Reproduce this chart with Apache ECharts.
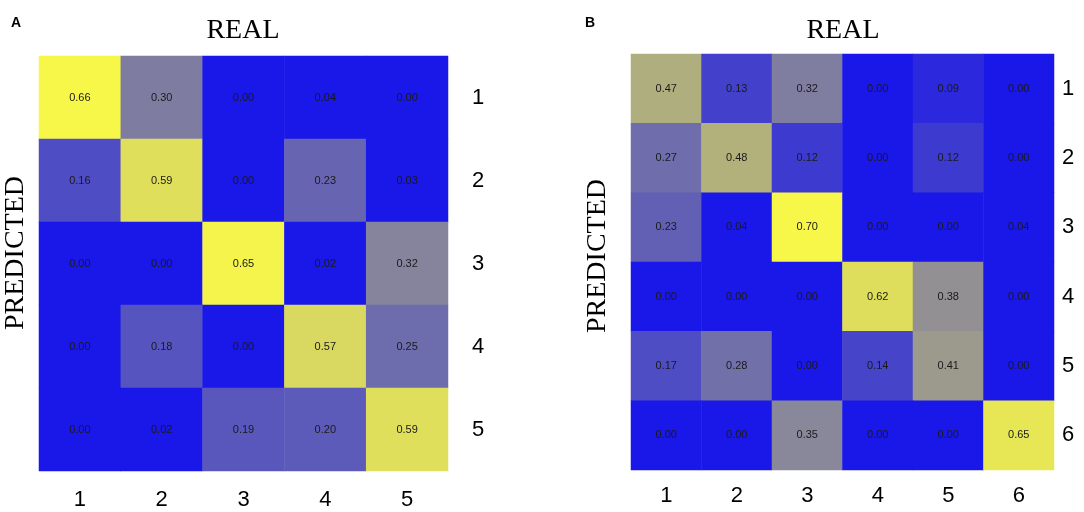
<!DOCTYPE html>
<html>
<head>
<meta charset="utf-8">
<title>Confusion matrices</title>
<script src="https://cdn.jsdelivr.net/npm/echarts@6/dist/echarts.min.js"></script>
<style>
  html, body { margin: 0; padding: 0; background: #fff; }
  #chart { width: 1084px; height: 512px; }
</style>
</head>
<body>
<div id="chart"></div>
<script>
// class labels for each panel
var classesA = ['1', '2', '3', '4', '5'];
var classesB = ['1', '2', '3', '4', '5', '6'];

// panel A: rows = predicted, cols = real
var matA = [
  [0.66, 0.30, 0.00, 0.04, 0.00],
  [0.16, 0.59, 0.00, 0.23, 0.03],
  [0.00, 0.00, 0.65, 0.02, 0.32],
  [0.00, 0.18, 0.00, 0.57, 0.25],
  [0.00, 0.02, 0.19, 0.20, 0.59]
];

// panel B
var matB = [
  [0.47, 0.13, 0.32, 0.00, 0.09, 0.00],
  [0.27, 0.48, 0.12, 0.00, 0.12, 0.00],
  [0.23, 0.04, 0.70, 0.00, 0.00, 0.04],
  [0.00, 0.00, 0.00, 0.62, 0.38, 0.00],
  [0.17, 0.28, 0.00, 0.14, 0.41, 0.00],
  [0.00, 0.00, 0.35, 0.00, 0.00, 0.65]
];

// turn a matrix into [col, row, value] triples
function toCells(mat) {
  var out = [];
  mat.forEach(function (row, r) {
    row.forEach(function (v, c) {
      out.push([c, r, v]);
    });
  });
  return out;
}

function maxOf(mat) {
  return Math.max.apply(null, mat.map(function (r) { return Math.max.apply(null, r); }));
}

var serif = '"Liberation Serif", "Times New Roman", serif';
var sans = '"Liberation Sans", Arial, sans-serif';

// blue -> yellow ramp, first step kept flat so tiny values stay plain blue
var blue = [26, 23, 233];
var yellow = [247, 247, 74];
function ramp(n) {
  var out = [];
  for (var i = 0; i < n; i++) {
    var t = i === 0 ? 0 : i / (n - 1);
    var c = blue.map(function (b, k) { return Math.round(b + (yellow[k] - b) * t); });
    out.push('rgb(' + c.join(',') + ')');
  }
  out[1] = out[0];
  return out;
}
var palette = ramp(12);

function xAxisFor(idx, cats, margin) {
  return {
    type: 'category', gridIndex: idx, data: cats, position: 'bottom',
    axisLine: { show: false }, axisTick: { show: false }, splitLine: { show: false },
    axisLabel: { fontSize: 22, color: '#000', fontFamily: sans, margin: margin }
  };
}

function yAxisFor(idx, cats, margin) {
  return {
    type: 'category', gridIndex: idx, data: cats, inverse: true, position: 'right',
    axisLine: { show: false }, axisTick: { show: false }, splitLine: { show: false },
    axisLabel: { fontSize: 22, color: '#000', fontFamily: sans, margin: margin }
  };
}

function heatSeries(idx, mat) {
  return {
    type: 'heatmap', xAxisIndex: idx, yAxisIndex: idx,
    data: toCells(mat),
    label: {
      show: true, fontSize: 11, color: '#1a1a1a', fontFamily: sans,
      formatter: function (p) { return p.value[2].toFixed(2); }
    },
    itemStyle: { borderWidth: 0 },
    emphasis: { disabled: true }
  };
}

function titleText(x, y, text, size, font, weight, rot) {
  return {
    type: 'text', x: x, y: y, rotation: rot || 0,
    style: {
      text: text, fontSize: size, fontFamily: font, fontWeight: weight || 'normal',
      fill: '#000', textAlign: 'center', textVerticalAlign: 'middle'
    }
  };
}

var chart = echarts.init(document.getElementById('chart'));
chart.setOption({
  animation: false,
  backgroundColor: '#fff',
  grid: [
    { left: 39, top: 56, width: 409, height: 415 },
    { left: 631, top: 54, width: 423, height: 416 }
  ],
  xAxis: [xAxisFor(0, classesA, 18), xAxisFor(1, classesB, 15)],
  yAxis: [yAxisFor(0, classesA, 24), yAxisFor(1, classesB, 8)],
  visualMap: [
    { show: false, seriesIndex: 0, min: 0, max: maxOf(matA), inRange: { color: palette } },
    { show: false, seriesIndex: 1, min: 0, max: maxOf(matB), inRange: { color: palette } }
  ],
  series: [heatSeries(0, matA), heatSeries(1, matB)],
  graphic: [
    titleText(16, 23, 'A', 14, sans, 'bold'),
    titleText(590, 23, 'B', 14, sans, 'bold'),
    titleText(243, 31, 'REAL', 28, serif),
    titleText(843, 31, 'REAL', 28, serif),
    titleText(16, 253, 'PREDICTED', 28, serif, 'normal', Math.PI / 2),
    titleText(598, 256, 'PREDICTED', 28, serif, 'normal', Math.PI / 2)
  ]
});
</script>
</body>
</html>
